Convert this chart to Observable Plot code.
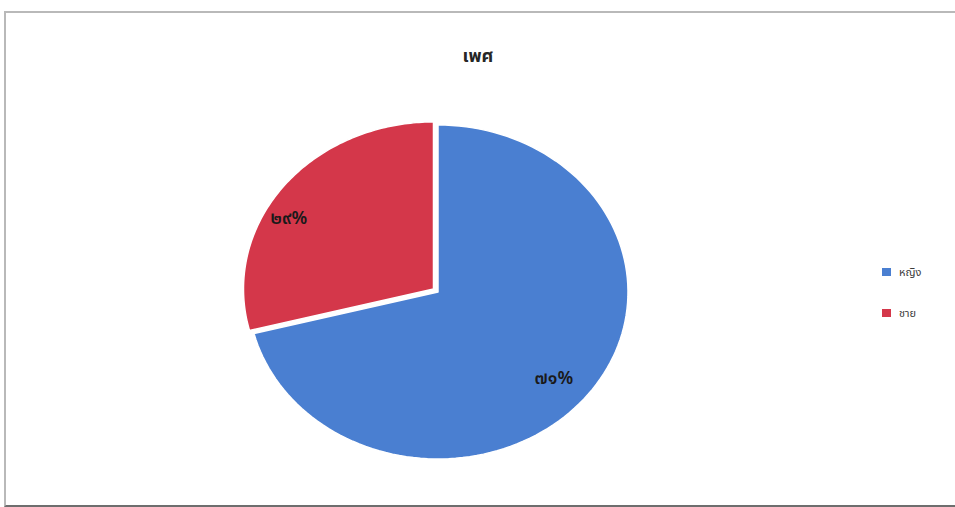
<!DOCTYPE html>
<html>
<head>
<meta charset="utf-8">
<script src="https://cdn.jsdelivr.net/npm/d3@7"></script>
<script src="https://cdn.jsdelivr.net/npm/@observablehq/plot@0.6"></script>
<style>
  html, body { margin: 0; padding: 0; background: #ffffff; }
  body { width: 955px; height: 507px; overflow: hidden; font-family: "Noto Sans Thai", "Tahoma", "Loma", "Garuda", "Noto Sans", sans-serif; }
  #wrap { position: relative; width: 955px; height: 507px; }
  #chart { position: absolute; left: 0; top: 0; }
  #frame { position: absolute; left: 4px; top: 11px; width: 960px; height: 492px;
           border-top: 2px solid #b9b9b9; border-left: 2px solid #b9b9b9; border-bottom: 2px solid #6e6e6e; }
  #title { position: absolute; left: 378px; width: 200px; top: 43px; text-align: center;
           font-size: 18px; font-weight: bold; color: #262626; }
  #legend { position: absolute; left: 882px; top: 262px; font-size: 11px; color: #3c3c3c; }
  .item { position: absolute; left: 0; white-space: nowrap; display: flex; align-items: center; height: 20px; }
  .sw { width: 9px; height: 8px; margin-right: 8px; display: inline-block; }
</style>
</head>
<body>
<div id="wrap">
  <div id="frame"></div>
  <div id="chart"></div>
  <div id="title"></div>
  <div id="legend"></div>
</div>
<script>
// ---- data ----
const title = "เพศ";
const categories = ["หญิง", "ชาย"];
const values = [71, 29];
const colors = ["#4a7fd1", "#d4374a"];

// ---- layout constants ----
const cx = 437.5, cy = 291.5, rx = 190, ry = 167;
const explodeIdx = 1, explode = 0.03;
const labelPlacement = [{r: 0.80, shift: 0.045}, {r: 0.87, shift: -0.154}];

const thaiDigits = "๐๑๒๓๔๕๖๗๘๙";
const toThai = s => String(s).replace(/[0-9]/g, d => thaiDigits[+d]);

const total = d3.sum(values);
const pie = d3.pie().sort(null).value(d => d.value)(categories.map((name, i) => ({name, value: values[i]})));

const pts = [];
const labels = [];
pie.forEach((p, i) => {
  const mid = (p.startAngle + p.endAngle) / 2;
  const off = i === explodeIdx ? explode : 0;
  const ox = off * Math.sin(mid), oy = off * Math.cos(mid);
  pts.push({name: p.data.name, x: ox, y: oy});
  const n = 120;
  for (let k = 0; k <= n; k++) {
    const a = p.startAngle + (p.endAngle - p.startAngle) * k / n;
    pts.push({name: p.data.name, x: ox + Math.sin(a), y: oy + Math.cos(a)});
  }
  pts.push({name: p.data.name, x: ox, y: oy});
  const lp = labelPlacement[i];
  const la = mid + lp.shift;
  labels.push({
    x: ox + lp.r * Math.sin(la),
    y: oy + lp.r * Math.cos(la),
    text: toThai(Math.round(p.data.value / total * 100)) + "%"
  });
});

const chart = Plot.plot({
  width: 955,
  height: 507,
  margin: 0,
  style: {background: "transparent", fontFamily: "\"Noto Sans Thai\", Tahoma, Loma, Garuda, \"Noto Sans\", sans-serif"},
  x: {domain: [-1, 1], range: [cx - rx, cx + rx], axis: null},
  y: {domain: [-1, 1], range: [cy + ry, cy - ry], axis: null},
  color: {domain: categories, range: colors},
  marks: [
    Plot.line(pts, {x: "x", y: "y", z: "name", fill: "name", stroke: "white", strokeWidth: 1.5, curve: "linear"}),
    Plot.text(labels, {x: "x", y: "y", text: "text", fontSize: 18, fontWeight: 600, fill: "#1a1a1a"})
  ]
});
document.getElementById("chart").appendChild(chart);

document.getElementById("title").textContent = title;
const legend = document.getElementById("legend");
categories.forEach((c, i) => {
  const item = document.createElement("div");
  item.className = "item";
  item.style.top = (i * 41) + "px";
  const sw = document.createElement("span");
  sw.className = "sw";
  sw.style.background = colors[i];
  const t = document.createElement("span");
  t.textContent = c;
  item.appendChild(sw);
  item.appendChild(t);
  legend.appendChild(item);
});
</script>
</body>
</html>
